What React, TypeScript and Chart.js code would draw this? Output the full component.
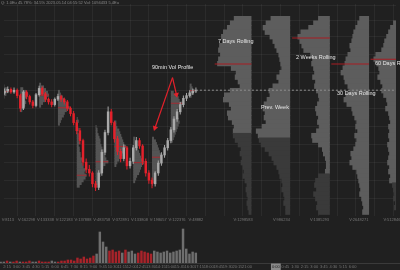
import React, { useEffect, useRef } from 'react';
import { Chart, registerables } from 'chart.js';

Chart.register(...registerables);

// ================= DATA =================
// candle times in minutes relative to 2:15
const candleTimes = [-30, -15, 0, 15, 30, 45, 60, 75, 90, 105, 120, 135, 150, 165, 180, 195, 210, 225, 240, 255, 270, 285, 300, 315, 330, 345, 360, 375, 390, 405, 420, 435, 450, 465, 480, 495, 510, 525, 540, 555, 570, 585, 600, 615, 630, 645, 660, 675, 690, 705, 720, 735, 750, 765, 780, 795, 810, 825, 840, 855, 870, 885];
const opens = [918, 920, 922, 919, 921, 915, 901, 919, 914, 908, 904, 916, 923, 917, 911, 908, 905, 911, 914, 911, 908, 901, 895, 885, 876, 865, 841, 833, 829, 817, 813, 829, 852, 874, 897, 885, 867, 853, 845, 857, 837, 842, 857, 865, 859, 842, 829, 821, 817, 829, 840, 849, 857, 865, 877, 889, 897, 905, 912, 915, 918, 920];
const highs = [923, 925, 924, 924, 923, 917, 921, 921, 916, 910, 918, 926, 925, 919, 913, 911, 913, 917, 916, 913, 910, 903, 898, 888, 879, 867, 845, 838, 831, 820, 832, 855, 877, 903, 900, 887, 870, 856, 861, 859, 846, 860, 869, 868, 861, 845, 832, 824, 831, 843, 852, 860, 868, 880, 892, 900, 908, 915, 918, 921, 923, 924];
const lows = [916, 918, 917, 917, 912, 897, 899, 911, 905, 901, 902, 914, 915, 908, 905, 902, 903, 909, 908, 905, 898, 892, 882, 872, 861, 837, 829, 825, 813, 809, 810, 826, 849, 871, 882, 863, 849, 841, 842, 833, 834, 839, 854, 856, 838, 825, 817, 812, 814, 826, 837, 846, 854, 862, 874, 886, 894, 902, 909, 913, 916, 918];
const closes = [920, 922, 919, 921, 915, 901, 919, 914, 908, 904, 916, 923, 917, 911, 908, 905, 911, 914, 911, 908, 901, 895, 885, 876, 865, 841, 833, 829, 817, 813, 829, 852, 874, 897, 885, 867, 853, 845, 857, 837, 842, 857, 865, 859, 842, 829, 821, 817, 829, 840, 849, 857, 865, 877, 889, 897, 905, 912, 915, 918, 920, 921];
const volumes = [1, 1, 2, 1, 1, 2, 1, 1, 1, 2, 1, 1, 2, 1, 1, 1, 2, 1, 1, 2, 2, 3, 3, 2, 5, 4, 6, 4, 5, 7, 9, 31, 21, 16, 12, 13, 11, 12, 10, 13, 11, 12, 9, 10, 12, 11, 10, 9, 12, 11, 10, 11, 12, 10, 11, 12, 13, 34, 14, 9, 11, 10];

// bottom time axis
const timeTickValues = [0, 45, 90, 135, 180, 225, 270, 315, 360, 405, 450, 495, 540, 585, 630, 675, 720, 765, 810, 855, 900, 945, 990, 1035, 1080, 1125, 1170, 1215, 1260, 1305, 1350, 1395, 1440, 1485, 1530, 1575, 1620];
const timeLabels = ['2:15', '3:00', '3:45', '4:30', '5:15', '6:00', '6:45', '7:30', '8:15', '9:00', '9:45', '10:30', '11:15', '12:00', '12:45', '13:30', '14:15', '15:00', '15:45', '16:30', '17:15', '18:00', '18:45', '19:30', '20:15', '21:00', '', '', '0:00', '0:45', '1:30', '2:15', '3:00', '3:45', '4:30', '5:15', '6:00'];
const highlightedTime = 1260;

// 90-minute session volume profiles (rows of 3 price units from the session low upward)
const sessionStarts = [-45, 45, 135, 225, 315, 405, 495, 585, 675, 765, 855];
const sessionLows = [912, 897, 902, 882, 813, 816, 836, 818, 815, 863, 913];
const sessionVolumes = [
  [3, 5, 7, 6, 3],
  [2, 3, 5, 6, 5, 7, 8, 6, 3],
  [2, 4, 6, 8, 10, 9, 7, 5, 2],
  [2, 3, 4, 6, 7, 9, 12, 10, 8, 7, 5, 3, 2],
  [3, 5, 7, 9, 10, 8, 9, 7, 6, 5, 6, 4, 4, 3, 3, 2, 3, 2, 2, 2, 1, 2, 1, 1, 2, 1],
  [2, 3, 4, 5, 6, 7, 8, 10, 13, 11, 10, 9, 8, 7, 6, 5, 5, 4, 3, 2, 2, 1],
  [2, 3, 5, 6, 8, 9, 11, 12, 10, 9, 8, 7, 6, 5, 3, 2, 2],
  [2, 3, 4, 6, 7, 8, 9, 11, 9, 8, 7, 6, 5, 4, 3, 2, 2],
  [1, 2, 3, 3, 4, 5, 6, 7, 8, 9, 10, 9, 8, 7, 6, 5, 4, 2],
  [2, 3, 4, 5, 6, 7, 8, 9, 8, 7, 6, 7, 8, 10, 12, 9, 8, 6, 3],
  [2, 4, 5, 3, 2],
];
const SESSION_ROW = 3;

// session volume labels under the price panel
const volLabelTimes = [-15, 75, 165, 255, 345, 435, 525, 615, 705, 795, 885, 1111, 1294, 1476, 1664, 1828];
const volLabelTexts = ['V:8113', 'V:162298', 'V:133338', 'V:122183', 'V:137888', 'V:483758', 'V:372891', 'V:133808', 'V:198057', 'V:122376', 'V:48882', 'V:1298583', 'V:986234', 'V:1385293', 'V:2648271', 'V:5128460'];

// big rolling profiles (rows top -> bottom)
const bigProfileNames = ['7 Days Rolling', 'Prev. Week', '2 Weeks Rolling', '30 Days Rolling', '60 Days Rolling'];
const bigProfileLevels = [1000.5, 995.5, 990.5, 985.5, 980.5, 975.5, 970.5, 965.5, 960.5, 955.5, 950.5, 945.5, 940.5, 935.5, 930.5, 925.5, 920.5, 915.5, 910.5, 905.5, 900.5, 895.5, 890.5, 885.5, 880.5, 875.5, 870.5, 865.5, 860.5, 855.5, 850.5, 845.5, 840.5, 835.5, 830.5, 825.5, 820.5, 815.5, 810.5, 805.5, 800.5, 795.5, 790.5, 785.5];
const profile7Days = [18, 22, 25, 29, 31, 30, 33, 34, 32, 34, 35, 21, 16, 17, 14, 12, 22, 28, 29, 23, 21, 25, 24, 20, 18, 19, 19, 17, 14, 11, 12, 10, 11, 9, 8, 9, 7, 5, 6, 5, 4, 5, 4, 3];
const profilePrevWeek = [20, 25, 28, 26, 21, 18, 16, 14, 12, 11, 10, 9, 11, 14, 12, 18, 22, 21, 24, 27, 28, 26, 27, 25, 29, 35, 33, 32, 30, 26, 22, 19, 17, 14, 12, 11, 9, 8, 9, 7, 6, 7, 5, 5];
const profile2Weeks = [12, 17, 22, 30, 33, 31, 29, 27, 20, 18, 19, 17, 16, 18, 15, 16, 14, 12, 11, 13, 15, 14, 12, 13, 11, 14, 19, 18, 12, 8, 7, 5, 4, 4, 5, 12, 15, 16, 14, 17, 15, 13, 14, 12];
const profile30Days = [10, 12, 14, 16, 17, 18, 20, 19, 22, 24, 25, 27, 29, 26, 25, 22, 20, 24, 26, 23, 18, 17, 15, 13, 14, 12, 15, 13, 14, 16, 19, 18, 20, 17, 13, 12, 11, 10, 9, 10, 8, 7, 6, 7];
const profile60Days = [12, 15, 18, 20, 22, 24, 25, 27, 33, 35, 32, 30, 29, 31, 28, 26, 27, 25, 22, 21, 23, 20, 19, 18, 20, 19, 20, 19, 21, 20, 19, 20, 21, 19, 20, 18, 19, 16, 15, 14, 15, 13, 14, 12];
const valueAreaLows = [875, 867, 829, 782, 817];
const pocLevels = [950, null, 979, 950, 955.5];
const pocVolumes = [37.5, 0, 38.5, 38.5, 38];

// annotation arrows (time, price)
const arrowOrigin = { x: 773, y: 935 };
const arrowTips = [{ x: 689, y: 879 }, { x: 792, y: 916 }];

// ================= STYLE / LAYOUT =================
const BG = '#202020';
const GRID = 'rgba(255,255,255,0.05)';
const UP = '#a9a9a9';
const DOWN = '#e3212b';
const VOL_UP = '#6e6e6e';
const VOL_DOWN = '#a8232a';
const PROFILE = '#545454';
const VA_LIGHT = '#5d5d5d';
const VA_DARK = '#3a3a3a';
const POC_RED = '#a81d23';
const TICK_COLOR = '#767676';
const FONT = "'Liberation Sans', Arial, sans-serif";
const X_MIN = -33;
const X_MAX = 1842;
const PRICE_MIN = 791;
const PRICE_MAX = 1007;
const UNIT = 4.6875; // axis minutes per drawn volume unit
const COLUMN_RIGHT = [1150.6, 1335.8, 1525.6, 1713.1, 1898.3];
const ARROW_ROT = [198, 168];

const gridTimes: number[] = [];
for (let t = -60; t <= X_MAX; t += 90) gridTimes.push(t);

const bigProfiles = [profile7Days, profilePrevWeek, profile2Weeks, profile30Days, profile60Days];

function mainConfig(): any {
  const candleUp = closes.map((c, i) => c >= opens[i]);
  const datasets: any[] = [];

  bigProfiles.forEach((vols, c) => {
    datasets.push({
      type: 'bar', indexAxis: 'y', xAxisID: 'x', yAxisID: 'y',
      data: vols.map((v, j) => ({ y: bigProfileLevels[j], x: [COLUMN_RIGHT[c] - v * UNIT, COLUMN_RIGHT[c]] })),
      backgroundColor: vols.map((_, j) => (bigProfileLevels[j] >= valueAreaLows[c] ? VA_LIGHT : VA_DARK)),
      barThickness: 5.4, grouped: false, borderWidth: 0, inflateAmount: 0, order: 10,
      clip: { left: 0, top: 0, right: 0, bottom: 10 },
    });
  });

  const pocData: any[] = [];
  pocLevels.forEach((p, c) => {
    if (p !== null) pocData.push({ y: p, x: [COLUMN_RIGHT[c] - pocVolumes[c] * UNIT, COLUMN_RIGHT[c]] });
  });
  datasets.push({
    type: 'bar', indexAxis: 'y', xAxisID: 'x', yAxisID: 'y', data: pocData,
    backgroundColor: POC_RED, barThickness: 1, grouped: false, borderWidth: 0, inflateAmount: 0, order: 9,
  });

  const sessData: any[] = [];
  const sessPoc: any[] = [];
  sessionVolumes.forEach((vols, k) => {
    vols.forEach((v, r) => {
      sessData.push({ y: sessionLows[k] + SESSION_ROW / 2 + SESSION_ROW * r, x: [sessionStarts[k], sessionStarts[k] + v * UNIT] });
    });
    const mx = Math.max(...vols);
    const r = vols.indexOf(mx);
    sessPoc.push({ y: sessionLows[k] + SESSION_ROW / 2 + SESSION_ROW * r, x: [sessionStarts[k], sessionStarts[k] + mx * UNIT] });
  });
  datasets.push({
    type: 'bar', indexAxis: 'y', xAxisID: 'x', yAxisID: 'y', data: sessData,
    backgroundColor: PROFILE, barThickness: 3.3, grouped: false, borderWidth: 0, inflateAmount: 0, order: 8,
  });
  datasets.push({
    type: 'bar', indexAxis: 'y', xAxisID: 'x', yAxisID: 'y', data: sessPoc,
    backgroundColor: 'rgba(190,30,38,0.75)', barThickness: 1, grouped: false, borderWidth: 0, inflateAmount: 0, order: 7,
  });

  datasets.push({
    type: 'bar', xAxisID: 'x', yAxisID: 'y',
    data: candleTimes.map((t, i) => ({ x: t, y: [lows[i], highs[i]] })),
    backgroundColor: candleUp.map((u) => (u ? UP : DOWN)),
    barThickness: 1, grouped: false, borderWidth: 0, inflateAmount: 0, order: 3,
  });
  datasets.push({
    type: 'bar', xAxisID: 'x', yAxisID: 'y',
    data: candleTimes.map((t, i) => ({ x: t, y: [opens[i], closes[i]] })),
    backgroundColor: candleUp.map((u) => (u ? UP : DOWN)),
    barThickness: 1.8, grouped: false, borderWidth: 0, order: 2,
  });

  const last = closes.length - 1;
  datasets.push({
    type: 'line', xAxisID: 'x', yAxisID: 'y',
    data: [{ x: candleTimes[last], y: closes[last] }, { x: X_MAX, y: closes[last] }],
    borderColor: '#8e8e8e', borderWidth: 1, borderDash: [2, 2], pointRadius: 0, order: 1,
  });

  arrowTips.forEach((tip, a) => {
    datasets.push({
      type: 'line', xAxisID: 'x', yAxisID: 'y',
      data: [arrowOrigin, tip],
      borderColor: DOWN, borderWidth: 1.2,
      pointRadius: [0, 3.2], pointStyle: 'triangle', pointRotation: [0, ARROW_ROT[a]],
      pointBackgroundColor: DOWN, pointBorderWidth: 0, order: 0,
    });
  });

  return {
    type: 'bar',
    data: { datasets },
    options: {
      responsive: false, maintainAspectRatio: false, animation: false, devicePixelRatio: 1, events: [],
      layout: { padding: 0 },
      plugins: { legend: { display: false }, tooltip: { enabled: false }, title: { display: false } },
      scales: {
        x: {
          type: 'linear', position: 'bottom', min: X_MIN, max: X_MAX, bounds: 'data', offset: false, stacked: false, weight: 0,
          grid: { color: GRID, drawTicks: false, offset: false },
          border: { display: false },
          ticks: { display: false },
          afterBuildTicks: (s: any) => { s.ticks = gridTimes.map((v) => ({ value: v })); },
          afterFit: (s: any) => { s.height = 0; s.paddingLeft = 0; s.paddingRight = 0; },
        },
        xl: {
          type: 'linear', position: 'bottom', min: X_MIN, max: X_MAX, bounds: 'data', offset: false, weight: 1, z: 2,
          grid: { display: false, drawTicks: false, offset: false },
          border: { display: false },
          ticks: {
            color: TICK_COLOR, font: { size: 4, family: FONT }, padding: 1, maxRotation: 0, minRotation: 0, autoSkip: false,
            callback: (_v: any, i: number) => volLabelTexts[i] ?? '',
          },
          afterBuildTicks: (s: any) => { s.ticks = volLabelTimes.map((v) => ({ value: v })); },
          afterFit: (s: any) => { s.height = 9; s.paddingLeft = 0; s.paddingRight = 0; },
        },
        y: {
          type: 'linear', min: PRICE_MIN, max: PRICE_MAX, bounds: 'data', stacked: false, beginAtZero: false,
          grid: { color: GRID, drawTicks: false },
          border: { display: false },
          ticks: { display: false, stepSize: 20, includeBounds: false },
          afterFit: (s: any) => { s.width = 0; s.paddingTop = 0; s.paddingBottom = 0; },
        },
      },
    },
  };
}

function volConfig(): any {
  const candleUp = closes.map((c, i) => c >= opens[i]);
  return {
    type: 'bar',
    data: {
      datasets: [{
        data: candleTimes.map((t, i) => ({ x: t, y: volumes[i] })),
        backgroundColor: candleUp.map((u) => (u ? VOL_UP : VOL_DOWN)),
        barThickness: 1.8, grouped: false, borderWidth: 0,
      }],
    },
    options: {
      responsive: false, maintainAspectRatio: false, animation: false, devicePixelRatio: 1, events: [],
      layout: { padding: 0 },
      plugins: { legend: { display: false }, tooltip: { enabled: false } },
      scales: {
        x: {
          type: 'linear', min: X_MIN, max: X_MAX, bounds: 'data', offset: false, stacked: false,
          grid: { display: false, drawTicks: false, offset: false },
          border: { display: true, color: '#3a3a3a' },
          ticks: {
            color: (c: any) => (c.tick && c.tick.value === highlightedTime ? '#1e1e1e' : TICK_COLOR),
            font: { size: 4, family: FONT }, padding: 1.5, maxRotation: 0, minRotation: 0, autoSkip: false,
            showLabelBackdrop: (c: any) => !!(c.tick && c.tick.value === highlightedTime),
            backdropColor: '#8a8a8a', backdropPadding: 1,
            callback: (_v: any, i: number) => timeLabels[i] ?? '',
          },
          afterBuildTicks: (s: any) => { s.ticks = timeTickValues.map((v) => ({ value: v })); },
          afterFit: (s: any) => { s.height = 7; s.paddingLeft = 0; s.paddingRight = 0; },
        },
        y: { type: 'linear', min: 0, max: 38, display: false, stacked: false },
      },
    },
  };
}

const labelPositions = [
  { left: 218, top: 41 },
  { left: 261, top: 107 },
  { left: 296, top: 57 },
  { left: 337, top: 93 },
  { left: 375, top: 63 },
];

export default function App() {
  const mainRef = useRef<HTMLCanvasElement>(null);
  const volRef = useRef<HTMLCanvasElement>(null);

  useEffect(() => {
    const main = new Chart(mainRef.current as HTMLCanvasElement, mainConfig());
    const vol = new Chart(volRef.current as HTMLCanvasElement, volConfig());
    return () => { main.destroy(); vol.destroy(); };
  }, []);

  const textStyle: React.CSSProperties = {
    position: 'absolute', fontSize: 5.5, lineHeight: '6px', color: '#e6e6e6', whiteSpace: 'nowrap',
    transform: 'translateY(-50%)', fontFamily: FONT, pointerEvents: 'none',
  };

  return (
    <div style={{ position: 'fixed', left: 0, top: 0, width: 400, height: 270, background: BG, overflow: 'hidden', fontFamily: FONT }}>
      <canvas ref={mainRef} width={400} height={225} style={{ position: 'absolute', left: 0, top: 0, width: 400, height: 225 }} />
      <canvas ref={volRef} width={400} height={45} style={{ position: 'absolute', left: 0, top: 225, width: 400, height: 45 }} />
      <div style={{ position: 'absolute', left: 1, top: 0, fontSize: 4, lineHeight: '5px', color: '#8a8a8a', whiteSpace: 'nowrap' }}>
        Q: 1.0Eu   45.78%: 34.5%   2023.05.14  04:55:52   Vol: 1094433   5.4Eu
      </div>
      <div style={{ ...textStyle, left: 152, top: 67 }}>90min Vol Profile</div>
      {bigProfileNames.map((name, i) => (
        <div key={name} style={{ ...textStyle, left: labelPositions[i].left, top: labelPositions[i].top }}>{name}</div>
      ))}
    </div>
  );
}
